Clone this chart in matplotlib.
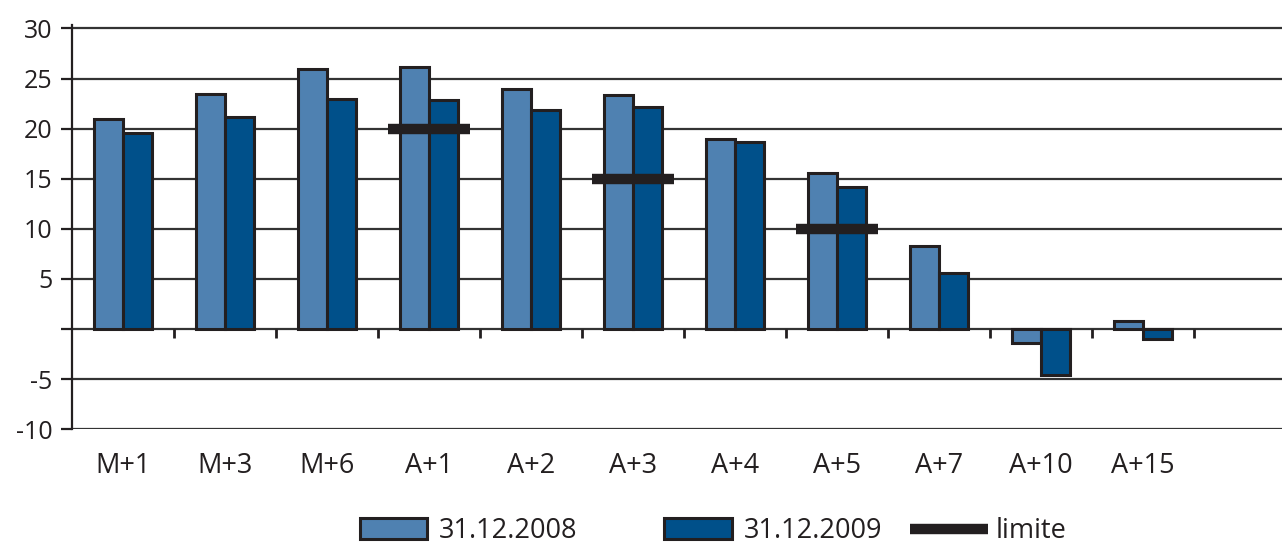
import matplotlib.pyplot as plt
import numpy as np

# échéances et valeurs par date
echeances = ['M+1', 'M+3', 'M+6', 'A+1', 'A+2', 'A+3', 'A+4', 'A+5', 'A+7', 'A+10', 'A+15']
val_2008 = [21.0, 23.5, 26.0, 26.2, 24.0, 23.4, 19.0, 15.6, 8.3, -1.4, 0.8]
val_2009 = [19.6, 21.2, 23.0, 22.9, 21.9, 22.2, 18.7, 14.2, 5.6, -4.6, -1.0]
# limites réglementaires
lim_pos = ['A+1', 'A+3', 'A+5']
lim_val = [20, 15, 10]

y_ticks = [30, 25, 20, 15, 10, 5, 0, -5, -10]
y_labels = ['30', '25', '20', '15', '10', '5', '', '-5', '-10']

plt.rcParams['font.family'] = ['Open Sans', 'DejaVu Sans']

c_2008 = '#4F81B1'
c_2009 = '#00508A'
c_bord = '#231F20'

fig = plt.figure(figsize=(12.82, 5.43), dpi=100)
ax = fig.add_axes([0.0562, 0.2094, 0.9438, 0.745])

x = np.arange(len(echeances))
w = 0.285
b1 = ax.bar(x - w / 2, val_2008, w, color=c_2008, edgecolor=c_bord, linewidth=2.2,
            label='31.12.2008', zorder=3)
b2 = ax.bar(x + w / 2, val_2009, w, color=c_2009, edgecolor=c_bord, linewidth=2.2,
            label='31.12.2009', zorder=3)

xl = np.array([echeances.index(p) for p in lim_pos])
lim = ax.hlines(lim_val, xl - 0.4, xl + 0.4, color=c_bord, linewidth=7.5, zorder=4,
                label='limite')

# quadrillage horizontal
for t in y_ticks:
    ax.axhline(t, color='#333333', linewidth=1.6, zorder=1)

# petits traits de séparation sous l'axe zéro
sep = np.arange(len(echeances) + 1) + 0.5
ax.vlines(sep, -0.9, 0, color=c_bord, linewidth=2, zorder=2)

ax.set_xlim(-0.5, 11.36)
ax.set_ylim(-10, 30.37)

ax.set_yticks(y_ticks)
ax.set_yticklabels(y_labels, fontsize=18, color='#231F20')
ax.tick_params(axis='y', length=8, width=1.6, color=c_bord, pad=6)

ax.set_xticks(x)
ax.set_xticklabels(echeances, fontsize=19.5, color='#231F20')
ax.tick_params(axis='x', length=0, pad=16)

for s in ['top', 'right', 'bottom']:
    ax.spines[s].set_visible(False)
ax.spines['left'].set_color(c_bord)
ax.spines['left'].set_linewidth(1.6)

# légende en deux morceaux : les barres, puis la limite
leg1 = fig.legend([b1, b2], ['31.12.2008', '31.12.2009'],
                  loc='lower left', bbox_to_anchor=(346 / 1282, -0.029), ncol=2,
                  frameon=False, fontsize=19.5, handlelength=2.5, handleheight=0.8,
                  handletextpad=0.44, columnspacing=3.2, borderpad=0,
                  labelcolor='#231F20')
fig.legend([lim], ['limite'],
           loc='lower left', bbox_to_anchor=(896 / 1282, -0.029),
           frameon=False, fontsize=19.5, handlelength=2.9,
           handletextpad=0.26, borderpad=0, labelcolor='#231F20')

fig.savefig('out.png', dpi=100)
